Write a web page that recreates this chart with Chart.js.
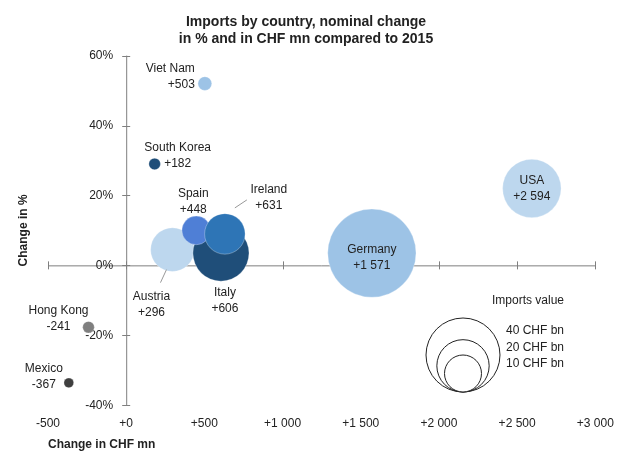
<!DOCTYPE html>
<html><head><meta charset="utf-8">
<script src="https://cdn.jsdelivr.net/npm/chart.js@4/dist/chart.umd.min.js"></script>
<style>html,body{margin:0;background:#fff}#wrap{width:640px;height:468px}</style>
</head><body><div id="wrap"><canvas id="c"></canvas></div>
<script>
const countries = ['Germany','USA','Austria','Italy','Spain','Ireland','Viet Nam','South Korea','Hong Kong','Mexico'];
const changeChf = [1571, 2594, 296, 606, 448, 631, 503, 182, -241, -367];
const changePct = [3.5, 22, 4.5, 3.5, 10, 9, 52, 29, -17.7, -33.6];
const importsBn = [57, 25, 14, 23, 6, 12, 1.4, 1.0, 1.0, 0.7];
const colors = ['#9dc3e6','#bdd7ee','#bdd7ee','#1f4e79','#4f7fd6','#2e75b6','#9dc3e6','#1f4e79','#7f7f7f','#3f3f3f'];
const labelText = ['+1 571','+2 594','+296','+606','+448','+631','+503','+182','-241','-367'];
const yTickLabels = ['-40%','-20%','0%','20%','40%','60%'];
// label placement: [align, dx, dy]
const labelPos = [['center',0,-3],['center',0,-8],['center',-21,47],['center',4,40],['center',-3,-37],['center',44,-44],
  ['right',-10,-15],['center',23,-16],['center',-30,-17],['center',-25,-14]];
const legendBn = [40, 20, 10];
const K = 5.85;

const font = "'Liberation Sans', Arial, sans-serif";
const fmtX = v => v === 0 ? '+0' : (v > 0 ? '+' : '-') + String(Math.abs(v)).replace(/\B(?=(\d{3})+(?!\d))/g, ' ');

const overlay = {
  id: 'overlay',
  beforeDraw(chart) {
    const c = chart.ctx; c.save(); c.fillStyle = '#fff'; c.fillRect(0,0,chart.width,chart.height); c.restore();
  },
  beforeDatasetsDraw(chart) {
    const c = chart.ctx, x = chart.scales.x, y = chart.scales.y;
    const x0 = x.getPixelForValue(0), y0 = y.getPixelForValue(0);
    c.save(); c.strokeStyle = '#7f7f7f'; c.lineWidth = 1;
    c.beginPath(); c.moveTo(x.left, y0 + .5); c.lineTo(x.right, y0 + .5);
    c.moveTo(x0 + .5, y.top); c.lineTo(x0 + .5, y.bottom); c.stroke();
    x.ticks.forEach(t => { const p = Math.round(x.getPixelForValue(t.value)) + .5; c.beginPath(); c.moveTo(p, y0 - 4); c.lineTo(p, y0 + 4); c.stroke(); });
    y.ticks.forEach(t => { const p = Math.round(y.getPixelForValue(t.value)) + .5; c.beginPath(); c.moveTo(x0 - 4, p); c.lineTo(x0 + 4, p); c.stroke(); });
    c.font = '12px ' + font; c.fillStyle = '#222'; c.textAlign = 'right'; c.textBaseline = 'middle';
    y.ticks.forEach((t, i) => c.fillText(yTickLabels[i], x0 - 13, y.getPixelForValue(t.value)));
    c.restore();
  },
  afterDatasetsDraw(chart) {
    const c = chart.ctx, x = chart.scales.x, y = chart.scales.y;
    c.save(); c.font = '12px ' + font; c.fillStyle = '#222'; c.textBaseline = 'middle';
    countries.forEach((n, i) => {
      const px = x.getPixelForValue(changeChf[i]), py = y.getPixelForValue(changePct[i]);
      const [al, dx, dy] = labelPos[i];
      c.textAlign = al;
      c.fillText(n, px + dx, py + dy); c.fillText(labelText[i], px + dx, py + dy + 16);
    });
    // leader lines (Ireland, Austria)
    c.strokeStyle = '#999'; c.beginPath();
    let px = x.getPixelForValue(changeChf[5]), py = y.getPixelForValue(changePct[5]);
    c.moveTo(px + 10, py - 26); c.lineTo(px + 22, py - 34);
    px = x.getPixelForValue(changeChf[2]); py = y.getPixelForValue(changePct[2]);
    c.moveTo(px - 6, py + 20); c.lineTo(px - 12, py + 33); c.stroke();
    // size legend
    const cx = 463, by = 392;
    c.strokeStyle = '#222'; c.fillStyle = '#fff';
    legendBn.forEach(b => { const r = K * Math.sqrt(b); c.beginPath(); c.arc(cx, by - r, r, 0, Math.PI * 2); c.fill(); c.stroke(); });
    c.fillStyle = '#222'; c.textAlign = 'left';
    c.fillText('Imports value', 492, 301);
    c.fillText('40 CHF bn', 506, 331); c.fillText('20 CHF bn', 506, 348); c.fillText('10 CHF bn', 506, 364);
    c.restore();
  }
};

new Chart(document.getElementById('c'), {
  type: 'bubble',
  data: { datasets: [{
    data: countries.map((n, i) => ({ x: changeChf[i], y: changePct[i], r: K * Math.sqrt(importsBn[i]) })),
    backgroundColor: colors, borderColor: 'rgba(255,255,255,0.6)', borderWidth: 0.5
  }] },
  options: {
    responsive: true, maintainAspectRatio: false, animation: false,
    layout: { padding: { left: 12, right: 40, top: 0, bottom: 12 } },
    plugins: {
      legend: { display: false }, tooltip: { enabled: false },
      title: { display: true, text: ['Imports by country, nominal change', 'in % and in CHF mn compared to 2015'],
        color: '#222', font: { family: font, size: 14, weight: 'bold' }, padding: { top: 14, bottom: 8 } }
    },
    scales: {
      x: { min: -500, max: 3000, grid: { display: false }, border: { display: false },
        ticks: { stepSize: 500, color: '#222', font: { family: font, size: 12 }, callback: v => fmtX(v), maxRotation: 0 },
        title: { display: true, text: 'Change in CHF mn', align: 'start', color: '#222', font: { family: font, size: 12, weight: 'bold' } } },
      y: { min: -40, max: 60, grid: { display: false }, border: { display: false },
        ticks: { display: false, stepSize: 20 },
        afterFit: s => { s.width = 36; },
        title: { display: true, text: 'Change in %', color: '#222', font: { family: font, size: 12, weight: 'bold' } } }
    }
  },
  plugins: [overlay]
});
</script></body></html>
